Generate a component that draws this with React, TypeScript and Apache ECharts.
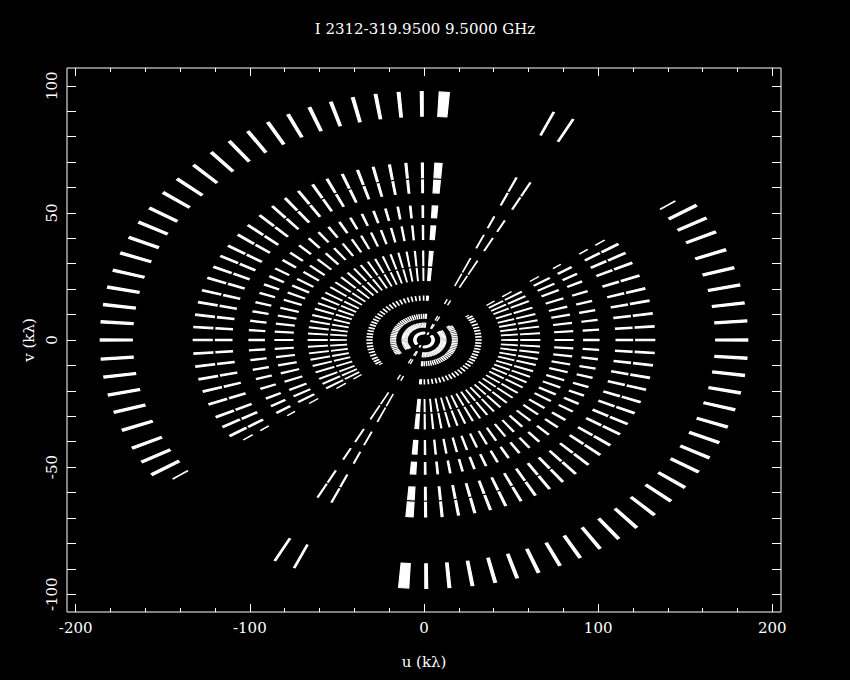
import React, { useEffect, useRef } from "react";
import * as echarts from "echarts";

// ---- data ----
const TITLE = "I 2312-319.9500 9.5000 GHz";
const X_NAME = "u (kλ)";
const Y_NAME = "v (kλ)";

// source declination (deg) -> ellipse axis ratio of the uv tracks
const declinationDeg = -31.7;

// radial extent (kλ) of each baseline's track across the band
const ringInner = [4.7, 9.7, 16.3, 29.8, 44.6, 55.6, 75.3, 91.7, 110.3, 121.6, 167.5];
const ringOuter = [5.8, 12.6, 19.2, 32.8, 53.7, 66.5, 85.6, 100.5, 119.8, 132.5, 185.9];

// scan positions along the track (track angle, deg) and their lengths (deg)
const scanMid = [
  62.6, 66.4,
  86.4, 90.4, 94.5, 98.6, 102.7, 106.7, 110.7, 114.8, 118.8, 122.9, 126.9,
  131.0, 135.3, 139.6, 143.6, 147.9, 151.7, 155.6, 159.5, 163.7, 167.7,
  171.8, 175.8, 180.0, 184.4, 188.6, 192.8, 196.9, 201.3, 205.8, 209.4,
  212.8, 215.8,
];
const scanSpan = [
  0.3, 0.3,
  1.8, 0.5, 0.5, 0.5, 0.5, 0.5, 0.5, 0.5, 0.5, 0.5, 0.5,
  0.5, 0.5, 0.5, 0.5, 0.5, 0.5, 0.5, 0.5, 0.5, 0.5,
  0.5, 0.5, 0.5, 0.5, 0.5, 0.5, 0.5, 0.5, 0.5, 0.5,
  0.5, 0.1,
];
// fraction of the band recorded in each scan (the last scan is partial)
const scanBandFrac = [
  1, 1,
  1, 1, 1, 1, 1, 1, 1, 1, 1, 1, 1,
  1, 1, 1, 1, 1, 1, 1, 1, 1, 1,
  1, 1, 1, 1, 1, 1, 1, 1, 1, 1,
  1, 0.55,
];

// axis ticks
const xMajorTicks = [-200, -100, 0, 100, 200];
const xMinorTicks = [-180, -160, -140, -120, -80, -60, -40, -20, 20, 40, 60, 80, 120, 140, 160, 180];
const yTicks = [-100, -90, -80, -70, -60, -50, -40, -30, -20, -10, 0, 10, 20, 30, 40, 50, 60, 70, 80, 90, 100];
const yLabels = [-100, -50, 0, 50, 100];

const FONT = "DejaVu Serif";
const WHITE = "#ffffff";

export default function App() {
  const ref = useRef<HTMLDivElement>(null);

  useEffect(() => {
    if (!ref.current) return;
    document.body.style.margin = "0";
    document.body.style.background = "#000";
    const chart = echarts.init(ref.current, null, { renderer: "svg" });

    const S = Math.abs(Math.sin((declinationDeg * Math.PI) / 180));
    const rad = Math.PI / 180;

    const dashes: number[][] = [];
    ringInner.forEach((rIn, i) => {
      const rOutFull = ringOuter[i];
      scanMid.forEach((m, j) => {
        const half = scanSpan[j] / 2;
        const rOut = rIn + (rOutFull - rIn) * scanBandFrac[j];
        const rc = (rIn + rOut) / 2;
        [0, 180].forEach((off) => {
          const ac = (m + off) * rad;
          dashes.push([rc * Math.cos(ac), S * rc * Math.sin(ac), rIn, rOut, m - half + off, m + half + off]);
        });
      });
    });

    const tickStyle = { color: WHITE, width: 1 };
    const textStyle = { color: WHITE, fontFamily: FONT, fontSize: 15, fontWeight: "normal" as const };

    const xBase = {
      type: "value" as const,
      min: -205,
      max: 205,
      axisLine: { show: false, onZero: false },
      splitLine: { show: false },
    };
    const yBase = {
      type: "value" as const,
      min: -107,
      max: 107,
      axisLine: { show: false, onZero: false },
      splitLine: { show: false },
    };

    chart.setOption({
      animation: false,
      backgroundColor: "#000000",
      title: {
        text: TITLE,
        left: "center",
        top: 16,
        textStyle: { ...textStyle },
      },
      grid: {
        left: 67,
        right: 69,
        top: 68,
        bottom: 68,
        show: true,
        borderColor: WHITE,
        borderWidth: 1,
        backgroundColor: "transparent",
        outerBoundsMode: "none",
      },
      xAxis: [
        {
          ...xBase,
          position: "bottom",
          axisTick: { show: true, inside: true, length: 8, lineStyle: tickStyle, customValues: xMajorTicks },
          axisLabel: { show: true, customValues: xMajorTicks, margin: 8, ...textStyle },
          name: X_NAME,
          nameLocation: "middle",
          nameGap: 42,
          nameTextStyle: { ...textStyle },
        },
        {
          ...xBase,
          position: "bottom",
          axisTick: { show: true, inside: true, length: 4, lineStyle: tickStyle, customValues: xMinorTicks },
          axisLabel: { show: false },
        },
        {
          ...xBase,
          position: "top",
          axisTick: { show: true, inside: true, length: 8, lineStyle: tickStyle, customValues: xMajorTicks },
          axisLabel: { show: false },
        },
        {
          ...xBase,
          position: "top",
          axisTick: { show: true, inside: true, length: 4, lineStyle: tickStyle, customValues: xMinorTicks },
          axisLabel: { show: false },
        },
      ],
      yAxis: [
        {
          ...yBase,
          position: "left",
          axisTick: { show: true, inside: true, length: 9, lineStyle: tickStyle, customValues: yTicks },
          axisLabel: { show: true, customValues: yLabels, rotate: 90, margin: 8, ...textStyle },
          name: Y_NAME,
          nameLocation: "middle",
          nameGap: 30,
          nameRotate: 90,
          nameTextStyle: { ...textStyle },
        },
        {
          ...yBase,
          position: "right",
          axisTick: { show: true, inside: true, length: 9, lineStyle: tickStyle, customValues: yTicks },
          axisLabel: { show: false },
        },
      ],
      series: [
        {
          type: "custom",
          xAxisIndex: 0,
          yAxisIndex: 0,
          clip: false,
          silent: true,
          data: dashes,
          renderItem: (params: any, api: any) => {
            const rIn = api.value(2);
            const rOut = api.value(3);
            const a0 = api.value(4) * rad;
            const a1 = api.value(5) * rad;
            const corners = [
              [rIn, a0],
              [rOut, a0],
              [rOut, a1],
              [rIn, a1],
            ];
            const points = corners.map(([r, a]) => api.coord([r * Math.cos(a), S * r * Math.sin(a)]));
            return {
              type: "polygon",
              shape: { points },
              style: { fill: WHITE, stroke: WHITE, lineWidth: 1.2 },
            };
          },
        },
      ],
    });

    return () => {
      chart.dispose();
    };
  }, []);

  return (
    <div
      ref={ref}
      style={{ position: "fixed", left: 0, top: 0, width: 850, height: 680, background: "#000" }}
    />
  );
}
